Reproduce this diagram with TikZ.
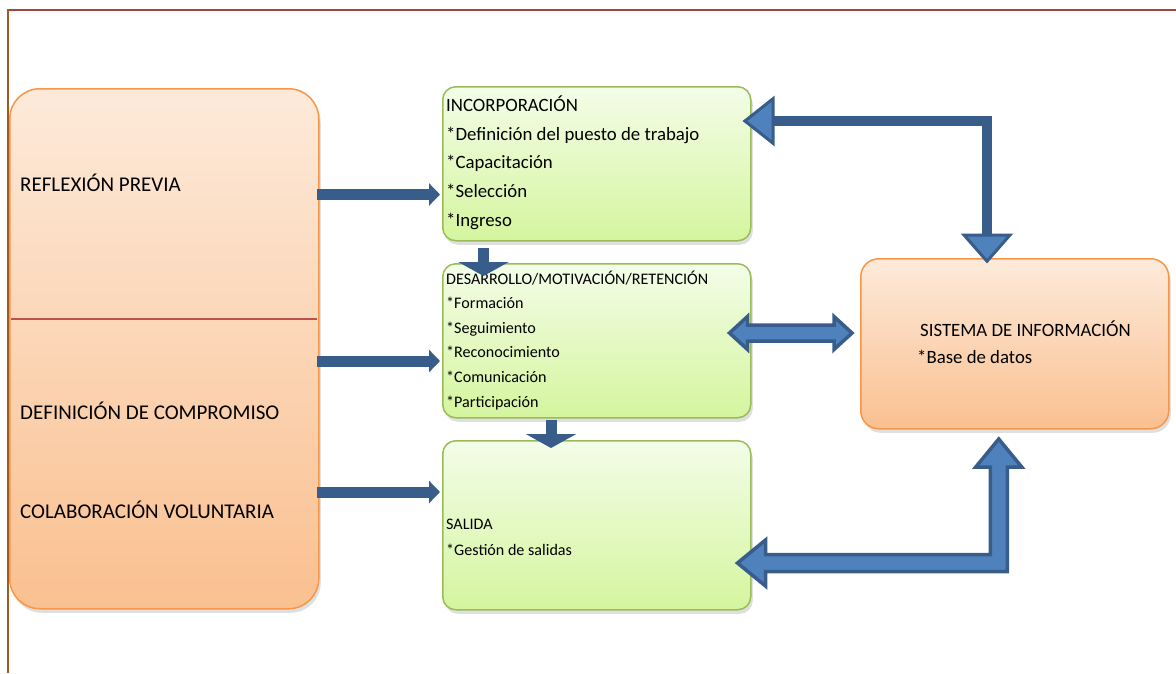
\documentclass[tikz,border=0pt]{standalone}
\usepackage{fontspec}
\setmainfont{Carlito}
\usetikzlibrary{arrows.meta,shadows,calc}
\definecolor{arrdark}{HTML}{385D8A}
\definecolor{arrlight}{HTML}{4F81BD}
\definecolor{orgtop}{HTML}{FDEADA}
\definecolor{orgbot}{HTML}{FAC090}
\definecolor{orgline}{HTML}{F79646}
\definecolor{grntop}{HTML}{F3FDE8}
\definecolor{grnbot}{HTML}{D5F59E}
\definecolor{grnline}{HTML}{9BBB59}
\definecolor{frametop}{HTML}{A5443A}
\definecolor{frameleft}{HTML}{A35A1E}
\definecolor{divider}{HTML}{C0504D}
\begin{document}
\begin{tikzpicture}[x=1pt,y=-1pt,
  shadowed/.style={drop shadow={shadow xshift=2pt,shadow yshift=-4pt,opacity=0.25}},
  orgbox/.style={rectangle, draw=orgline, line width=1.5pt, top color=orgtop, bottom color=orgbot, anchor=north west, inner sep=0pt, shadowed},
  grnbox/.style={rectangle, rounded corners=13pt, draw=grnline, line width=1.5pt, top color=grntop, bottom color=grnbot, anchor=north west, inner sep=0pt, minimum width=308pt, shadowed},
  bigtxt/.style={anchor=base west, inner sep=0pt, font=\fontsize{21}{25}\selectfont},
  midtxt/.style={anchor=base west, inner sep=0pt, font=\fontsize{18.8}{22}\selectfont},
  smalltxt/.style={anchor=base west, inner sep=0pt, font=\fontsize{16.1}{19}\selectfont},
  solidarr/.style={draw=arrdark, line width=11pt, -{Triangle[width=22pt,length=11pt]}},
  downarr/.style={draw=arrdark, line width=11pt, -{Triangle[width=50pt,length=14pt]}},
  elbowarr/.style={draw=arrdark, line width=10pt, line join=miter,
     {Triangle[width=50pt,length=32pt,fill=arrlight,line width=3pt]}-{Triangle[width=52pt,length=30pt,fill=arrlight,line width=3pt]}},
  blockarr/.style={draw=arrdark, fill=arrlight, line width=3.5pt, line join=miter}
]
\useasboundingbox (0,0) rectangle (1176,673);
% frame
\draw[frametop, line width=2.2pt] (7,10) -- (1176,10);
\draw[frameleft, line width=2pt] (8,9) -- (8,673);

% boxes
\node[orgbox, rounded corners=30pt, minimum width=309pt, minimum height=520pt] (left) at (9,88) {};
\draw[divider, line width=1.5pt] (11,319) -- (317,319);
\node[grnbox, minimum height=154pt] (inc) at (442,86) {};
\node[grnbox, minimum height=154pt] (des) at (442,263) {};
\node[grnbox, minimum height=169pt] (sal) at (442,440) {};
\node[orgbox, rounded corners=18pt, minimum width=308pt, minimum height=170pt] (sis) at (860,258) {};

% left texts
\node[bigtxt] (t1) at (20,191) {REFLEXIÓN PREVIA};
\node[bigtxt] (t2) at (20,419) {DEFINICIÓN DE COMPROMISO};
\node[bigtxt] (t3) at (20,518) {COLABORACIÓN VOLUNTARIA};

% incorporacion
\node[midtxt] (i1) at (446,111) {INCORPORACIÓN};
\node[midtxt] (i2) at (446,140) {*Definición del puesto de trabajo};
\node[midtxt] (i3) at (446,168) {*Capacitación};
\node[midtxt] (i4) at (446,197) {*Selección};
\node[midtxt] (i5) at (446,226) {*Ingreso};

% desarrollo
\node[smalltxt] (d1) at (446,284) {DESARROLLO/MOTIVACIÓN/RETENCIÓN};
\node[smalltxt] (d2) at (446,308) {*Formación};
\node[smalltxt] (d3) at (446,333) {*Seguimiento};
\node[smalltxt] (d4) at (446,357) {*Reconocimiento};
\node[smalltxt] (d5) at (446,382) {*Comunicación};
\node[smalltxt] (d6) at (446,407) {*Participación};

% salida
\node[smalltxt] (s1) at (446,529) {SALIDA};
\node[smalltxt] (s2) at (446,555) {*Gestión de salidas};

% sistema
\node[midtxt] (si1) at (920,336) {SISTEMA DE INFORMACIÓN};
\node[midtxt] (si2) at (917,363) {*Base de datos};

% straight arrows from left box
\coordinate (a1) at (0,194.5);
\coordinate (a2) at (0,361);
\coordinate (a3) at (0,492);
\draw[solidarr, shorten <=-3pt, shorten >=2pt] (left.east |- a1) -- (inc.west |- a1);
\draw[solidarr, shorten <=-3pt, shorten >=2pt] (left.east |- a2) -- (des.west |- a2);
\draw[solidarr, shorten <=-3pt, shorten >=2pt] (left.east |- a3) -- (sal.west |- a3);

% down arrows between green boxes
\coordinate (b1) at (483.5,0);
\coordinate (b2) at (551,0);
\draw[downarr] ($(inc.south -| b1)+(0,6)$) -- ($(des.north -| b1)+(0,13)$);
\draw[downarr] ($(des.south -| b2)+(0,1)$) -- ($(sal.north -| b2)+(0,8)$);

% top elbow double arrow
\coordinate (e1) at (987,121);
\draw[elbowarr] ($(inc.east |- e1)+(-9,0)$) -- (e1) -- ($(e1 |- sis.north)+(0,5.5)$);

% middle double block arrow
\coordinate (m) at (0,333);
\coordinate (mA) at ($(des.east |- m)+(-22,0)$);
\coordinate (mB) at ($(sis.west |- m)+(-8,0)$);
\draw[blockarr] (mA) -- ($(mA)+(18,-16.5)$) -- ($(mA)+(18,-8)$) -- ($(mB)+(-18,-8)$) -- ($(mB)+(-18,-16.5)$) -- (mB)
  -- ($(mB)+(-18,16.5)$) -- ($(mB)+(-18,8)$) -- ($(mA)+(18,8)$) -- ($(mA)+(18,16.5)$) -- cycle;

% bottom elbow double block arrow
\coordinate (q) at (0,563);
\coordinate (qA) at ($(sal.east |- q)+(-14,0)$);
\coordinate (qB) at ($(sis.south)+(-16,9.5)$);
\coordinate (qC) at (qB |- qA);
\draw[blockarr] (qA) -- ($(qA)+(28,-23)$) -- ($(qA)+(28,-8.5)$) -- ($(qC)+(-8.5,-8.5)$) -- ($(qB)+(-8.5,28)$)
  -- ($(qB)+(-23,28)$) -- (qB) -- ($(qB)+(23,28)$) -- ($(qB)+(8.5,28)$) -- ($(qC)+(8.5,8.5)$)
  -- ($(qA)+(28,8.5)$) -- ($(qA)+(28,23)$) -- cycle;
\end{tikzpicture}
\end{document}
